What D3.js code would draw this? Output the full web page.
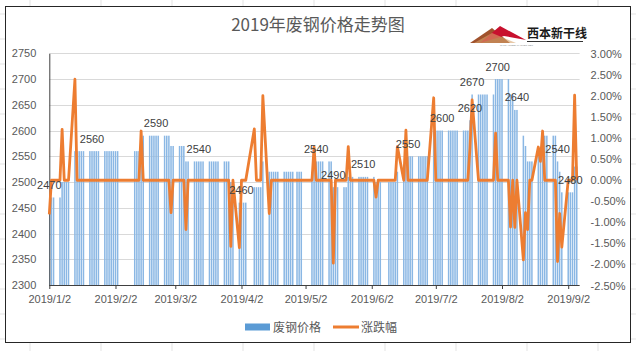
<!DOCTYPE html>
<html>
<head>
<meta charset="utf-8">
<script src="https://cdn.jsdelivr.net/npm/d3@7"></script>
<style>
  body { margin: 0; background: #fff; }
  text { font-family: "Liberation Sans", Arial, sans-serif; }
  .cjk { font-family: "Noto Sans CJK SC", sans-serif; }
</style>
</head>
<body>
<div id="chart"></div>
<script>
// trading calendar (2019 China): holidays off, weekend make-up days on
const holidays = ["2019-02-04", "2019-02-05", "2019-02-06", "2019-02-07", "2019-02-08",
    "2019-04-05", "2019-05-01", "2019-05-02", "2019-05-03", "2019-06-07"];
const extraWorkdays = ["2019-02-02", "2019-02-03", "2019-04-28", "2019-05-05"];

// scrap price: [date the price starts, price]
const priceRuns = [
    ["2019-01-02", 2470], ["2019-01-08", 2500], ["2019-01-14", 2560],
    ["2019-02-14", 2590], ["2019-02-28", 2570], ["2019-03-07", 2540],
    ["2019-03-28", 2500], ["2019-04-01", 2460], ["2019-04-08", 2490],
    ["2019-04-12", 2540], ["2019-04-15", 2520], ["2019-05-06", 2540],
    ["2019-05-15", 2490], ["2019-05-22", 2510], ["2019-06-04", 2500],
    ["2019-06-14", 2520], ["2019-06-18", 2550], ["2019-07-01", 2600],
    ["2019-07-18", 2620], ["2019-07-19", 2670], ["2019-07-30", 2700],
    ["2019-08-06", 2670], ["2019-08-08", 2640], ["2019-08-12", 2590],
    ["2019-08-13", 2570], ["2019-08-14", 2540], ["2019-08-19", 2560],
    ["2019-08-21", 2590], ["2019-08-28", 2540], ["2019-08-29", 2520],
    ["2019-08-30", 2480], ["2019-09-05", 2530]
];

// daily change in % (days not listed are 0)
const changeDays = [
    ["2019-01-02", -0.81], ["2019-01-08", 1.21], ["2019-01-14", 2.40],
    ["2019-02-14", 1.17], ["2019-02-28", -0.77], ["2019-03-07", -1.17],
    ["2019-03-28", -1.57], ["2019-04-01", -1.60], ["2019-04-08", 1.22],
    ["2019-04-12", 2.01], ["2019-04-15", -0.79], ["2019-05-06", 0.79],
    ["2019-05-15", -1.97], ["2019-05-22", 0.80], ["2019-06-04", -0.40],
    ["2019-06-14", 0.80], ["2019-06-18", 1.19], ["2019-07-01", 1.96],
    ["2019-07-18", 0.77], ["2019-07-19", 1.91], ["2019-07-30", 1.12],
    ["2019-08-06", -1.11], ["2019-08-08", -1.12], ["2019-08-12", -1.89],
    ["2019-08-13", -0.77], ["2019-08-14", -1.17], ["2019-08-19", 0.79],
    ["2019-08-20", 0.45], ["2019-08-21", 1.17], ["2019-08-28", -1.93],
    ["2019-08-29", -0.79], ["2019-08-30", -1.59], ["2019-09-05", 2.02]
];

// days that carry a price label
const labelDays = ["2019-01-02", "2019-01-22", "2019-02-21", "2019-03-13", "2019-04-02",
    "2019-05-07", "2019-05-15", "2019-05-29", "2019-06-19", "2019-07-05", "2019-07-18",
    "2019-07-19", "2019-07-31", "2019-08-09", "2019-08-28", "2019-09-03"];

const priceTicks = d3.range(2300, 2751, 50);
const pctTicks = [-2.5, -2, -1.5, -1, -0.5, 0, 0.5, 1, 1.5, 2, 2.5, 3];
const dateTicks = ["2019-01-02", "2019-02-02", "2019-03-02", "2019-04-02", "2019-05-02",
    "2019-06-02", "2019-07-02", "2019-08-02", "2019-09-02"];

const W = 636, H = 351;
const plot = { left: 49.3, right: 579.6, top: 53.3, bottom: 285 };
const parse = d3.timeParse("%Y-%m-%d");
const fmt = d3.timeFormat("%Y-%m-%d");

// build daily rows
const days = d3.timeDay.range(new Date(2019, 0, 2), new Date(2019, 8, 7))
    .filter(d => {
        const s = fmt(d);
        if (holidays.includes(s)) return false;
        return (d.getDay() != 0 && d.getDay() != 6) || extraWorkdays.includes(s);
    });
const changeMap = new Map(changeDays);
const rows = days.map(d => {
    const s = fmt(d);
    let price = priceRuns[0][1];
    for (let r of priceRuns) if (r[0] <= s) price = r[1];
    return { date: d, key: s, price: price, pct: changeMap.get(s) || 0 };
});

const svg = d3.select("#chart").append("svg")
    .attr("width", W).attr("height", H);

// faint spreadsheet cells behind the chart
const cellX = [30, 101, 172, 243, 314, 385, 456, 527, 598];
svg.selectAll(".cellv").data(cellX).join("line")
    .attr("x1", d => d).attr("x2", d => d).attr("y1", 0).attr("y2", H)
    .attr("stroke", "#e3e3e3").attr("stroke-width", 1);
const cellY = d3.range(14, H, 25);
svg.selectAll(".cellh").data(cellY).join("line")
    .attr("x1", 0).attr("x2", W).attr("y1", d => d).attr("y2", d => d)
    .attr("stroke", "#e3e3e3").attr("stroke-width", 1);

// chart area
svg.append("rect").attr("x", 5.5).attr("y", 6.5).attr("width", 625).attr("height", 336)
    .attr("fill", "#fff").attr("stroke", "#262626").attr("stroke-width", 1);

const x = d3.scaleTime()
    .domain([new Date(2019, 0, 2), new Date(2019, 8, 7, 8)])
    .range([plot.left, plot.right]);
const y = d3.scaleLinear().domain([2300, 2750]).range([plot.bottom, plot.top]);
const y2 = d3.scaleLinear().domain([-2.5, 3]).range([plot.bottom + 0.5, plot.top + 0.7]);

// grid
svg.append("g").selectAll("line").data(priceTicks).join("line")
    .attr("x1", plot.left).attr("x2", plot.right)
    .attr("y1", d => Math.round(y(d)) + 0.5).attr("y2", d => Math.round(y(d)) + 0.5)
    .attr("stroke", "#d9d9d9").attr("stroke-width", 1);

svg.append("defs").append("clipPath").attr("id", "clip")
    .append("rect").attr("x", plot.left).attr("y", 0)
    .attr("width", plot.right - plot.left).attr("height", H);

// bars
svg.append("g").attr("clip-path", "url(#clip)")
    .selectAll("rect").data(rows).join("rect")
    .attr("x", d => x(d.date) - 0.75)
    .attr("width", 1.5)
    .attr("y", d => y(d.price))
    .attr("height", d => plot.bottom - y(d.price))
    .attr("fill", "#8ab7e4");

// left axis
const yAxis = svg.append("g").attr("transform", `translate(${plot.left},0)`)
    .call(d3.axisLeft(y).tickValues(priceTicks).tickSize(0).tickPadding(13)
        .tickFormat(d3.format("d")));
yAxis.select(".domain").attr("stroke", "#404040");
yAxis.selectAll("text").attr("fill", "#595959").style("font-size", "11px");

// right axis
const y2Axis = svg.append("g").attr("transform", `translate(${plot.right},0)`)
    .call(d3.axisRight(y2).tickValues(pctTicks).tickSize(0).tickPadding(11)
        .tickFormat(d => d.toFixed(2) + "%"));
y2Axis.select(".domain").remove();
y2Axis.selectAll("text").attr("fill", "#595959").style("font-size", "11px");

// bottom axis
const xAxis = svg.append("g").attr("transform", `translate(0,${plot.bottom})`)
    .call(d3.axisBottom(x).tickValues(dateTicks.map(parse)).tickSizeOuter(0).tickSize(4)
        .tickPadding(6).tickFormat(d3.timeFormat("%Y/%-m/%-d")));
xAxis.select(".domain").attr("stroke", "#404040").attr("d", `M${plot.left},0.5H${plot.right}`);
xAxis.selectAll("line").attr("stroke", "#404040");
xAxis.selectAll("text").attr("fill", "#595959").style("font-size", "11px");

// change line
const line = d3.line().x(d => x(d.date)).y(d => y2(d.pct));
svg.append("path").datum(rows)
    .attr("d", line)
    .attr("fill", "none")
    .attr("stroke", "#ed7d31")
    .attr("stroke-width", 2.8)
    .attr("stroke-linejoin", "round");

// price labels
svg.append("g").selectAll("text")
    .data(rows.filter(d => labelDays.includes(d.key))).join("text")
    .attr("x", d => x(d.date))
    .attr("y", d => y(d.price) - 8.5)
    .attr("text-anchor", "middle")
    .attr("fill", "#404040")
    .style("font-size", "11px")
    .text(d => d.price);

// title
svg.append("text").attr("class", "cjk")
    .attr("x", 318).attr("y", 31)
    .attr("text-anchor", "middle")
    .attr("fill", "#595959")
    .style("font-size", "17px")
    .text("2019年废钢价格走势图");

// logo
const logo = svg.append("g").attr("transform", "translate(470,24)");
logo.append("path").attr("d", "M0,19 L22,4 L40,19 Z").attr("fill", "#a0522d");
logo.append("path").attr("d", "M10,19 L30,2 L56,16 L34,12 Z").attr("fill", "#c8102e");
logo.append("path").attr("d", "M4,19 L22,9 L46,19 Z").attr("fill", "#d7a46a").attr("opacity", 0.6);
logo.append("text").attr("class", "cjk").attr("x", 57).attr("y", 14)
    .attr("fill", "#1a1a1a").style("font-size", "12px").style("font-weight", "bold")
    .text("西本新干线");
logo.append("line").attr("x1", 57).attr("x2", 113).attr("y1", 17.5).attr("y2", 17.5)
    .attr("stroke", "#333").attr("stroke-width", 1);
logo.append("text").attr("x", 30).attr("y", 22).attr("fill", "#888")
    .style("font-size", "2.5px").text("CHINA STEEL MARKET NET");

// legend
const legend = svg.append("g").attr("transform", "translate(245,327)");
legend.append("rect").attr("x", 0).attr("y", -3.5).attr("width", 25).attr("height", 7)
    .attr("fill", "#5b9bd5");
legend.append("text").attr("class", "cjk").attr("x", 28).attr("y", 4.5)
    .attr("fill", "#595959").style("font-size", "12px").text("废钢价格");
legend.append("line").attr("x1", 88).attr("x2", 114).attr("y1", 0).attr("y2", 0)
    .attr("stroke", "#ed7d31").attr("stroke-width", 3);
legend.append("text").attr("class", "cjk").attr("x", 116).attr("y", 4.5)
    .attr("fill", "#595959").style("font-size", "12px").text("涨跌幅");
</script>
</body>
</html>
